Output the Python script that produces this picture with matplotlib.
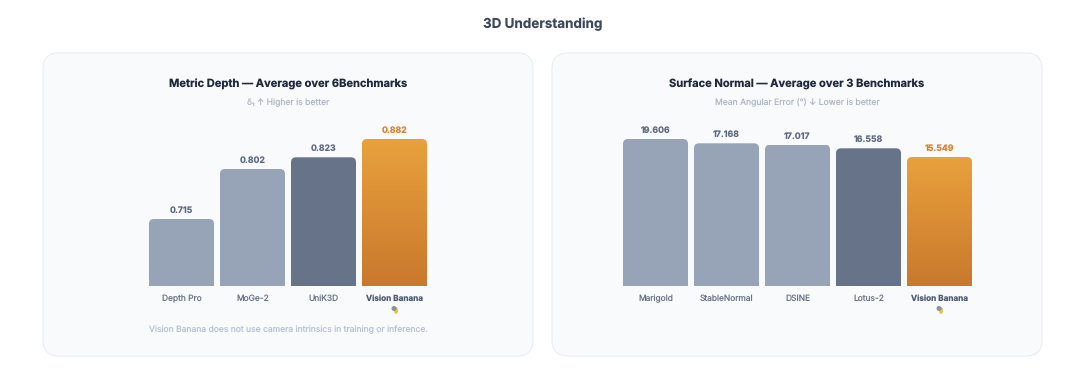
import matplotlib
matplotlib.use('Agg')
import matplotlib.pyplot as plt
import matplotlib.patches as mpatches
from matplotlib.transforms import IdentityTransform
import numpy as np
from matplotlib.colors import LinearSegmentedColormap

plt.rcParams['font.family'] = ['Inter', 'DejaVu Sans']
plt.rcParams['text.hinting'] = 'no_hinting'

W, H = 1080, 377

# data
depth_names = ['Depth Pro', 'MoGe-2', 'UniK3D', 'Vision Banana']
depth_values = [0.715, 0.802, 0.823, 0.882]
normal_names = ['Marigold', 'StableNormal', 'DSINE', 'Lotus-2', 'Vision Banana']
normal_values = [19.606, 17.168, 17.017, 16.558, 15.549]
depth_kinds = ['base', 'base', 'runner', 'ours']
normal_kinds = ['base', 'base', 'base', 'runner', 'ours']

# the bars in the picture are not on a linear scale, so the y scale is given by knots
depth_scale_values = [0.5, 0.715, 0.802, 0.823, 0.882, 1.0]
depth_scale_heights = [0, 67, 117, 128.7, 147, 176]
normal_scale_values = [0, 15.549, 16.558, 17.017, 17.168, 19.606, 25]
normal_scale_heights = [0, 129, 137.7, 141.3, 142.7, 147, 176]

colors = {'base': '#97a3b6', 'runner': '#667389'}
orange_cmap = LinearSegmentedColormap.from_list('orange', ['#e8a03c', '#c9782c'])


def px(x, y):
    # pixel position in the reference to figure fraction
    return x / W, 1 - y / H


def add_panel(fig, x0, x1, y0, y1):
    l, b = px(x0, y1)
    box = mpatches.FancyBboxPatch((l, b), (x1 - x0) / W, (y1 - y0) / H,
                                  boxstyle='round,pad=0,rounding_size=0.0148',
                                  mutation_aspect=W / H,
                                  transform=fig.transFigure, facecolor='#f8fafc',
                                  edgecolor='#eaedf3', linewidth=0.8, zorder=-1)
    fig.add_artist(box)


def draw_bars(fig, left, names, values, kinds, knot_values, knot_heights):
    n = len(names)
    top_px, base_px = 110, 286
    ax = fig.add_axes([left / W, 1 - base_px / H, n * 71 / W, (base_px - top_px) / H])
    ax.patch.set_alpha(0)

    def forward(v):
        return np.interp(v, knot_values, knot_heights)

    def inverse(h):
        return np.interp(h, knot_heights, knot_values)

    ax.set_yscale('function', functions=(forward, inverse))
    ax.set_xlim(-0.5, n - 0.5)
    ax.set_ylim(knot_values[0], knot_values[-1])
    for s in ax.spines.values():
        s.set_visible(False)
    ax.set_yticks([])
    ax.minorticks_off()
    ax.set_xticks(range(n))
    ax.set_xticklabels(names, fontsize=6.05, color='#6b7789')
    ax.tick_params(axis='x', length=0, pad=6.4)
    ax.get_xticklabels()[-1].set_fontweight('bold')
    ax.get_xticklabels()[-1].set_fontsize(5.9)
    ax.get_xticklabels()[-1].set_color('#4f5c70')

    bar_w = 65 / 71
    r = 5  # corner radius in px
    for i, (v, kind) in enumerate(zip(values, kinds)):
        # rounded top corners, bottom runs past the axes so only the top shows round
        (x0, y0), (x1, y1) = ax.transData.transform([(i - bar_w / 2, knot_values[0]), (i + bar_w / 2, v)])
        clip = mpatches.FancyBboxPatch((x0, y0 - 20), x1 - x0, y1 - y0 + 20,
                                       boxstyle='round,pad=0,rounding_size=%f' % r,
                                       transform=IdentityTransform())
        if kind == 'ours':
            edges = inverse(np.linspace(0, forward(v), 120))
            shade = np.linspace(1, 0, 119).reshape(-1, 1)
            mesh = ax.pcolormesh([i - bar_w / 2, i + bar_w / 2], edges, shade, cmap=orange_cmap,
                                 shading='flat', zorder=2)
            mesh.set_clip_path(clip)
            label_color = '#d9822b'
        else:
            rect = ax.bar(i, v - knot_values[0], bottom=knot_values[0], width=bar_w, color=colors[kind], zorder=2)[0]
            rect.set_clip_path(clip)
            label_color = '#5f6b80'
        ax.annotate('%.3f' % v, (i, v), xytext=(0, 3.2), textcoords='offset points', ha='center', va='bottom',
                    fontsize=6.3, fontweight='bold', color=label_color)
    ax.set_xlim(-0.5, n - 0.5)
    ax.set_ylim(knot_values[0], knot_values[-1])
    return ax


def banana_mark(fig, x, y):
    # small emoji below the Vision Banana label, no emoji font installed
    fig.add_artist(mpatches.Ellipse(px(x + 1, y + 1), 4 / W, 7 / H, transform=fig.transFigure,
                                    facecolor='#e6c24a', edgecolor='none'))
    fig.add_artist(mpatches.Ellipse(px(x - 1, y - 1), 5 / W, 5 / H, transform=fig.transFigure,
                                    facecolor='#8d9499', edgecolor='none'))


fig = plt.figure(figsize=(W / 100, H / 100), dpi=100, facecolor='white')

add_panel(fig, 43, 533, 53, 356)
add_panel(fig, 552, 1042, 53, 356)

draw_bars(fig, 146, depth_names, depth_values, depth_kinds, depth_scale_values, depth_scale_heights)
draw_bars(fig, 620, normal_names, normal_values, normal_kinds, normal_scale_values, normal_scale_heights)

x, y = px(543, 24.5)
fig.text(x, y, '3D Understanding', ha='center', va='center', fontsize=9.7, fontweight='bold', color='#3b475a')
x, y = px(288, 84.5)
fig.text(x, y, 'Metric Depth — Average over 6Benchmarks', ha='center', va='center', fontsize=8.0,
         fontweight='bold', color='#1e293b')
x, y = px(288, 102.5)
fig.text(x, y, 'δ₁ ↑ Higher is better', ha='center', va='center', fontsize=6.2, color='#aeb8c8')
x, y = px(797, 84.5)
fig.text(x, y, 'Surface Normal — Average over 3 Benchmarks', ha='center', va='center', fontsize=8.0,
         fontweight='bold', color='#1e293b')
x, y = px(797, 102.5)
fig.text(x, y, 'Mean Angular Error (°) ↓ Lower is better', ha='center', va='center', fontsize=6.2, color='#aeb8c8')
x, y = px(288, 330)
fig.text(x, y, 'Vision Banana does not use camera intrinsics in training or inference.', ha='center', va='center',
         fontsize=6.15, color='#b8c1d0')

banana_mark(fig, 395, 309.5)
banana_mark(fig, 940, 309.5)

fig.savefig('out.png', dpi=100)
